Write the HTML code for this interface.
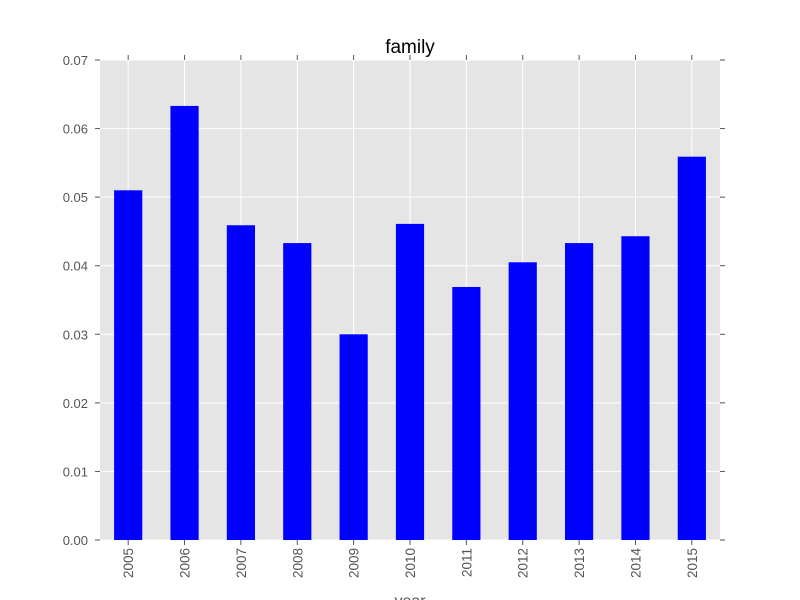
<!DOCTYPE html>
<html><head><meta charset="utf-8"><style>
body{margin:0;background:#fff;}
svg{display:block;font-family:"Liberation Sans","DejaVu Sans",sans-serif;}
</style></head><body>
<svg id="chart" width="800" height="600">
<text x="410" y="53" font-size="19" text-anchor="middle">family</text>
<rect x="100" y="60" width="620" height="480" fill="#E5E5E5"/>
<g id="grid"></g><g id="bars"></g><g id="axes"></g>
<text x="410" y="606" font-size="16" fill="#555" text-anchor="middle">year</text>
</svg>
<script>
const categories=["2005","2006","2007","2008","2009","2010","2011","2012","2013","2014","2015"];
const values=[0.0510,0.0633,0.0459,0.0433,0.0300,0.0461,0.0369,0.0405,0.0433,0.0443,0.0559];
const yTicks=[0,0.01,0.02,0.03,0.04,0.05,0.06,0.07];
const yTickLabels=["0.00","0.01","0.02","0.03","0.04","0.05","0.06","0.07"];
const L=100,R=720,T=60,B=540,yMax=0.07;
const ns="http://www.w3.org/2000/svg";
const step=(R-L)/categories.length;
function xC(i){return L+step*(i+0.5);}
function yS(v){return B-(v/yMax)*(B-T);}
function mk(tag,attrs,parent){const e=document.createElementNS(ns,tag);for(const k in attrs)e.setAttribute(k,attrs[k]);document.getElementById(parent).appendChild(e);return e;}
yTicks.forEach((t,i)=>{
 const y=yS(t);
 const g=mk("line",{x1:L,x2:R,y1:y,y2:y,stroke:"#fff","stroke-width":1},"grid");
 
 
 mk("line",{x1:L-5,x2:L,y1:y,y2:y,stroke:"#555"},"axes");
 mk("line",{x1:R,x2:R+5,y1:y,y2:y,stroke:"#555"},"axes");
 const tx=mk("text",{x:L-12,y:y+5,"font-size":13,fill:"#555","text-anchor":"end"},"axes");
 tx.textContent=yTickLabels[i];
 
 
});
categories.forEach((c,i)=>{
 const x=xC(i);
 const g=mk("line",{x1:x,x2:x,y1:T,y2:B,stroke:"#fff","stroke-width":1},"grid");
 
 
 const w=step*0.5;
 const b=mk("rect",{x:x-w/2,y:yS(values[i]),width:w,height:B-yS(values[i]),fill:"#0000FF"},"bars");
 
 
 mk("line",{x1:x,x2:x,y1:B,y2:B+5,stroke:"#555"},"axes");
 mk("line",{x1:x,x2:x,y1:T-5,y2:T,stroke:"#555"},"axes");
 const tx=mk("text",{x:0,y:0,"font-size":13.5,fill:"#555","text-anchor":"end",transform:`translate(${x+5},${B+8}) rotate(-90)`},"axes");
 tx.textContent=c;
 
 
});
</script>
</body></html>
